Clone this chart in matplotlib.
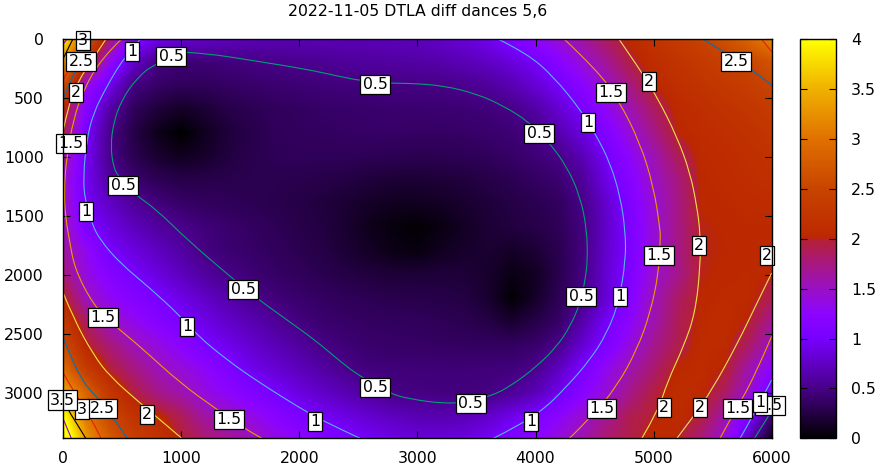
import numpy as np
import matplotlib
matplotlib.use("Agg")
import matplotlib.pyplot as plt
from matplotlib.colors import LinearSegmentedColormap
from matplotlib.path import Path
from matplotlib.patches import PathPatch

title_text = "2022-11-05 DTLA diff dances 5,6"
x_nodes = list(range(0, 6001, 200))
y_nodes = list(range(0, 3401, 200))
x_ticks = [0, 1000, 2000, 3000, 4000, 5000, 6000]
y_ticks = [0, 500, 1000, 1500, 2000, 2500, 3000]
bar_ticks = [0, 0.5, 1, 1.5, 2, 2.5, 3, 3.5, 4]
bar_labels = ["0", "0.5", "1", "1.5", "2", "2.5", "3", "3.5", "4"]

row_0000 = [4.0,2.8,1.8,1.15,.95,.85,.8,.75,.72,.7,.7,.7,.7,.7,.72,.73,.78,.85,.95,1.1,1.28,1.46,1.65,1.87,2.07,2.2,2.35,2.48,2.65,2.88,3.2]
row_0200 = [3.3,2.15,1.3,.8,.49,.44,.44,.46,.49,.51,.53,.55,.58,.6,.61,.62,.65,.7,.76,.86,.98,1.2,1.43,1.68,1.93,2.12,2.22,2.32,2.42,2.52,2.67]
row_0400 = [2.65,1.38,.92,.48,.38,.34,.34,.37,.39,.41,.43,.45,.46,.47,.48,.49,.49,.53,.58,.68,.83,.98,1.22,1.48,1.75,2.02,2.14,2.22,2.3,2.39,2.5]
row_0600 = [2.1,1.15,.62,.34,.22,.15,.2,.27,.31,.34,.36,.38,.39,.4,.41,.41,.42,.43,.45,.5,.62,.82,1.02,1.3,1.57,1.85,2.06,2.13,2.2,2.27,2.35]
row_0800 = [1.97,1.02,.51,.27,.1,.0,.12,.22,.28,.33,.35,.36,.37,.38,.38,.37,.37,.38,.4,.43,.5,.67,.87,1.12,1.42,1.72,2.01,2.1,2.14,2.2,2.28]
row_1000 = [1.63,.96,.51,.3,.18,.12,.16,.24,.29,.32,.33,.33,.33,.32,.31,.3,.31,.32,.34,.38,.44,.5,.7,.98,1.27,1.56,1.87,2.06,2.1,2.15,2.2]
row_1200 = [1.52,.95,.6,.42,.32,.27,.28,.29,.3,.3,.29,.27,.25,.22,.2,.2,.21,.23,.27,.31,.36,.42,.57,.9,1.18,1.49,1.75,2.04,2.08,2.12,2.15]
row_1400 = [1.55,.97,.76,.58,.46,.39,.35,.33,.31,.29,.26,.23,.19,.15,.12,.12,.14,.18,.22,.26,.3,.35,.51,.8,1.1,1.43,1.72,2.03,2.05,2.08,2.1]
row_1600 = [1.58,1.07,.88,.73,.6,.52,.45,.4,.36,.32,.28,.24,.18,.1,.05,.02,.07,.14,.2,.24,.27,.33,.47,.78,1.06,1.42,1.72,2.0,2.03,2.05,2.05]
row_1800 = [1.65,1.3,1.0,.87,.74,.62,.48,.42,.38,.34,.3,.26,.2,.14,.08,.06,.12,.17,.19,.15,.2,.3,.47,.8,1.05,1.42,1.72,2.0,2.02,2.03,2.04]
row_2000 = [1.78,1.38,1.15,1.0,.87,.73,.6,.5,.43,.38,.34,.3,.26,.23,.21,.21,.22,.21,.17,.08,.13,.29,.48,.82,1.09,1.45,1.7,2.0,2.04,2.06,2.01]
row_2200 = [2.05,1.52,1.3,1.15,1.03,.9,.77,.65,.53,.45,.4,.36,.33,.31,.29,.28,.27,.25,.18,.02,.15,.33,.51,.82,1.15,1.53,1.83,2.03,2.07,2.06,1.91]
row_2400 = [2.32,1.84,1.5,1.33,1.17,1.03,.9,.78,.68,.57,.47,.41,.38,.36,.35,.34,.32,.3,.26,.18,.27,.38,.65,.98,1.25,1.58,1.88,2.05,2.1,1.99,1.68]
row_2600 = [2.6,2.02,1.77,1.54,1.38,1.22,1.02,.92,.8,.7,.6,.49,.44,.4,.38,.38,.37,.36,.36,.36,.4,.52,.82,1.08,1.38,1.7,1.9,2.08,2.07,1.85,1.5]
row_2800 = [2.95,2.35,1.96,1.75,1.55,1.42,1.27,1.08,.92,.82,.72,.62,.51,.46,.45,.44,.44,.44,.45,.46,.52,.75,1.03,1.32,1.58,1.8,2.04,2.08,2.0,1.6,1.22]
row_3000 = [3.45,2.85,2.27,1.95,1.72,1.58,1.38,1.25,1.11,1.0,.87,.77,.68,.58,.49,.48,.47,.47,.48,.56,.7,.92,1.2,1.42,1.72,1.95,2.1,2.06,1.85,1.47,.95]
row_3200 = [4.05,3.05,2.53,2.2,2.08,1.88,1.62,1.49,1.35,1.2,1.05,.97,.88,.8,.73,.68,.67,.7,.78,.92,1.05,1.24,1.45,1.68,1.9,1.99,2.08,1.95,1.6,1.1,.42]
row_3400 = [4.5,3.3,2.75,2.42,2.2,2.0,1.82,1.68,1.55,1.37,1.27,1.16,1.05,.97,.9,.85,.85,.88,.97,1.1,1.25,1.43,1.6,1.82,1.92,2.08,2.0,1.75,1.43,.72,.1]

c05_main = [[1031,110],[1215,119],[1610,181],[2062,254],[2345,316],[2514,350],[2768,373],[2938,373],[3220,393],[3503,463],[3729,565],[3941,698],[4110,867],[4266,1079],[4379,1333],[4435,1616],[4441,1870],[4421,2040],[4379,2237],[4294,2435],[4181,2605],[4012,2774],[3786,2944],[3616,3028],[3418,3076],[3220,3090],[2938,3051],[2768,3006],[2514,2859],[2345,2732],[2147,2562],[1893,2379],[1638,2195],[1412,2011],[1045,1695],[791,1446],[593,1305],[466,1164],[424,1079],[401,910],[424,712],[494,514],[621,331],[777,203],[1031,110]]
c05_corner = [[5855,3384],[5972,3200],[6000,3150]]
c10_left = [[650,0],[537,147],[494,189],[367,401],[254,627],[198,853],[169,1164],[183,1362],[240,1559],[311,1701],[480,1898],[734,2110],[989,2345],[1130,2506],[1384,2718],[1666,2915],[2005,3127],[2203,3240],[2514,3384]]
c10_right = [[3687,0],[3927,119],[4153,316],[4393,613],[4520,825],[4633,1051],[4718,1333],[4760,1616],[4765,1870],[4704,2237],[4605,2492],[4463,2718],[4266,2944],[4068,3141],[3870,3268],[3644,3384]]
c10_corner = [[5733,3384],[5848,3184],[6000,2889]]
c15_left = [[490,0],[325,161],[170,429],[85,684],[28,994],[5,1305],[22,1531],[51,1701],[99,1955],[254,2251],[409,2407],[650,2605],[989,2915],[1285,3127],[1525,3297],[1681,3384]]
c15_right = [[4245,0],[4520,260],[4704,514],[4887,881],[5000,1249],[5057,1616],[5057,1701],[5043,1983],[4972,2322],[4859,2633],[4689,2944],[4478,3198],[4288,3384]]
c15_corner = [[5563,3384],[5678,3169],[5843,2889],[6000,2520]]
c20_top = [[360,0],[282,119],[113,373],[42,571],[0,768]]
c20_low = [[0,2153],[85,2364],[254,2675],[395,2859],[650,3085],[819,3226],[1003,3384]]
c20_right = [[4708,0],[4887,260],[5028,486],[5198,825],[5311,1136],[5367,1418],[5396,1644],[5396,1927],[5353,2322],[5255,2605],[5113,2915],[5043,3141],[4901,3384]]
c20_corner = [[5198,3384],[5339,3198],[5495,2972],[5706,2590],[5876,2237],[6000,1983]]
c25_top = [[250,0],[183,90],[85,302],[5,486]]
c25_low = [[0,2534],[85,2746],[164,2889],[198,2944],[381,3141],[542,3384]]
c25_right = [[5420,0],[5594,105],[5832,254],[6000,390]]
c30_top = [[170,0],[100,150],[30,290],[0,340]]
c30_low = [[0,2830],[100,3010],[214,3170],[320,3384]]
c30_right = [[5916,0],[6000,105]]
c35_top = [[0,161],[80,0]]
c35_low = [[0,3050],[50,3160],[87,3214],[190,3384]]
c40_top = [[0,40],[30,0]]
c40_low = [[0,3222],[68,3384]]

labels = [
 ("3",167,-3),("2.5",150,176),("2",108,438),("1.5",65,871),("1",192,1448),("1",582,91),
 ("0.5",912,133),("0.5",2640,371),("0.5",506,1227),("0.5",4030,786),("1",4445,693),
 ("1.5",4640,438),("2",4961,345),("2.5",5699,176),("1.5",5046,1821),("2",5385,1736),
 ("2",5961,1821),("0.5",1522,2109),("0.5",4385,2168),("1",4716,2168),("1.5",336,2347),
 ("1",1048,2423),("0.5",2640,2940),("0.5",3453,3076),("2.5",328,3118),("3",156,3124),("3.5",-5,3048),
 ("2",709,3169),("1.5",1404,3211),("1",2133,3228),("1",3962,3228),("1.5",4561,3118),
 ("2",5088,3110),("2",5393,3110),("1.5",5713,3118),("1.5",5986,3093),("1",5902,3065),
]

level_lines = [
 ("#009e73",[c05_main,c05_corner]),
 ("#56b4e9",[c10_left,c10_right,c10_corner]),
 ("#e69f00",[c15_left,c15_right,c15_corner]),
 ("#f0e442",[c20_top,c20_low,c20_right,c20_corner]),
 ("#0072b2",[c25_top,c25_low,c25_right]),
 ("#e51e10",[c30_top,c30_low,c30_right]),
 ("#000000",[c35_top,c35_low]),
 ("#9400d3",[c40_top,c40_low]),
]

grid = np.array([row_0000,row_0200,row_0400,row_0600,row_0800,row_1000,row_1200,row_1400,row_1600,
                 row_1800,row_2000,row_2200,row_2400,row_2600,row_2800,row_3000,row_3200,row_3400])

stops = [(0,"#000000"),(.125,"#480088"),(.25,"#7800ff"),(.31,"#8c04ff"),(.375,"#9a10c4"),
         (.44,"#a8187c"),(.495,"#b42038"),(.505,"#bc2800"),(.625,"#c84400"),(.75,"#e07000"),
         (.875,"#f0b000"),(1,"#ffff00")]
cmap = LinearSegmentedColormap.from_list("pal", stops, N=512)


def smooth_path(points):
    """Quadratic Bezier path whose control points are the traced points."""
    a = np.array(points, dtype=float)
    if len(a) < 3:
        return Path(a)
    verts, codes = [a[0]], [Path.MOVETO]
    for i in range(1, len(a) - 1):
        end = a[i + 1] if i == len(a) - 2 else (a[i] + a[i + 1]) / 2
        verts += [a[i], end]
        codes += [Path.CURVE3, Path.CURVE3]
    return Path(verts, codes)


W, H = 879, 469
FS = 11.3
fig = plt.figure(figsize=(W/100, H/100), dpi=100)
L, R, T, B = 63.3, 771.6, 39.3, 438.3
ax = fig.add_axes([L/W, 1-B/H, (R-L)/W, (B-T)/H])
step = x_nodes[1]-x_nodes[0]
im = ax.imshow(grid, cmap=cmap, vmin=0, vmax=4, aspect="auto", origin="upper",
               interpolation="bilinear", interpolation_stage="data",
               extent=(x_nodes[0]-step/2, x_nodes[-1]+step/2, y_nodes[-1]+step/2, y_nodes[0]-step/2))
for color, branches in level_lines:
    for br in branches:
        ax.add_patch(PathPatch(smooth_path(br), fc="none", ec=color, lw=0.8, zorder=3))
ax.set_xlim(0, 6000)
ax.set_ylim(3384, 0)
ax.set_xticks(x_ticks)
ax.set_yticks(y_ticks)
ax.tick_params(axis="both", direction="in", top=True, right=True, length=5.2, width=0.8, labelsize=FS, colors="black")
ax.tick_params(axis="x", pad=9)
ax.tick_params(axis="y", pad=14)
for s in ax.spines.values():
    s.set_linewidth(1.0)
    s.set_zorder(6)
for txt, x, y in labels:
    ax.text(x, y, txt, ha="center", va="center_baseline", fontsize=FS, zorder=5, clip_on=False,
            bbox=dict(boxstyle="square,pad=0.14", fc="white", ec="black", lw=0.9))
fig.text(418/W, 1-11.5/H, title_text, ha="center", va="center", fontsize=FS)

cax = fig.add_axes([800.3/W, 1-B/H, 35.4/W, (B-T)/H])
cb = fig.colorbar(im, cax=cax)
cb.set_ticks(bar_ticks)
cb.set_ticklabels(bar_labels)
cax.tick_params(direction="in", left=True, right=True, length=5.2, width=0.8, labelsize=FS, pad=11)
cb.outline.set_linewidth(1.0)
fig.savefig("out.png", dpi=100)
